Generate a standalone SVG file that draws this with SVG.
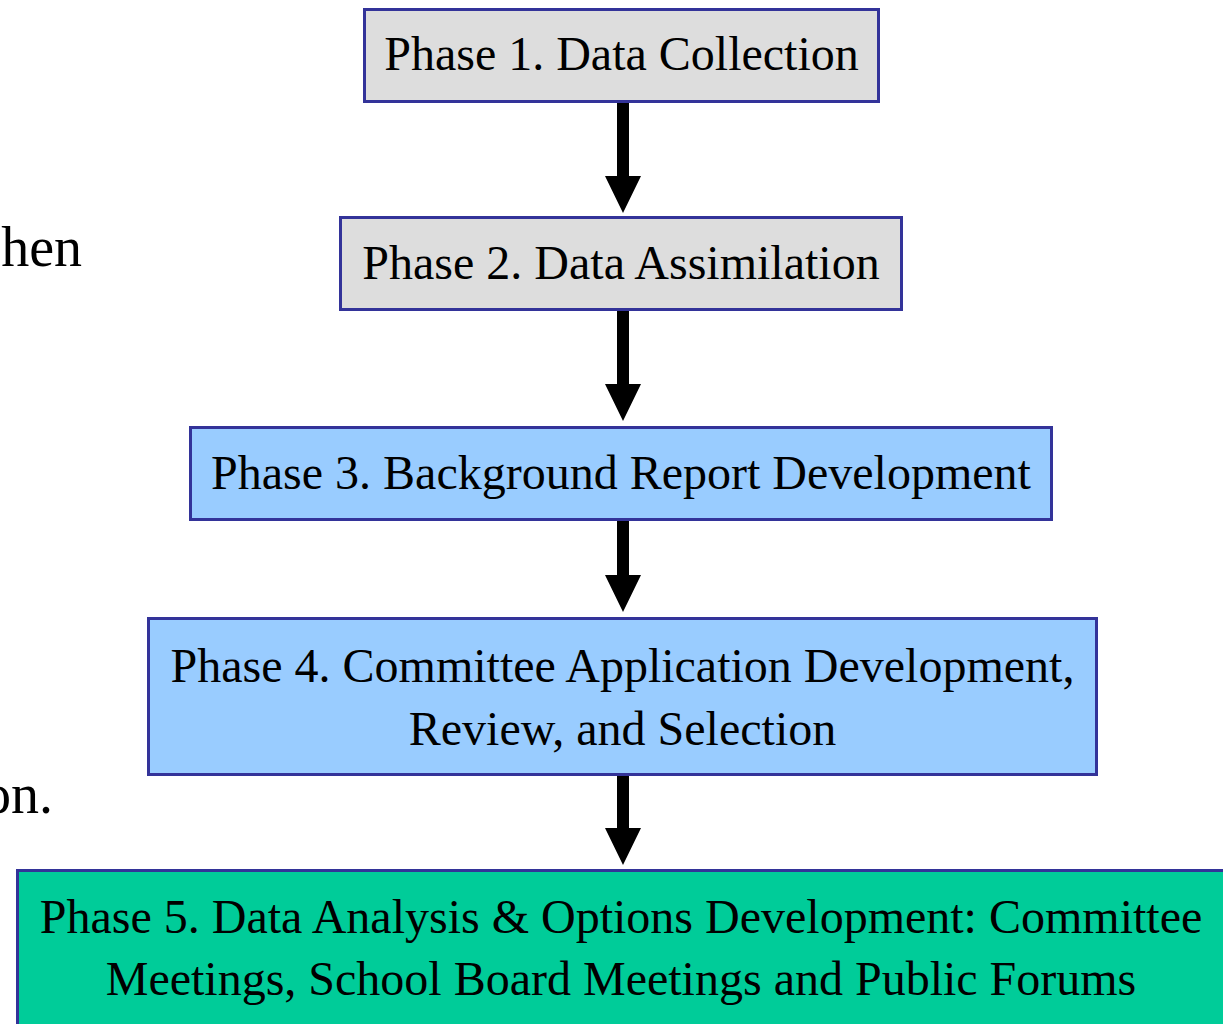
<svg xmlns="http://www.w3.org/2000/svg" width="1223" height="1024" viewBox="0 0 1223 1024">
<style>
.box{stroke:#333399;stroke-width:3}
.g{fill:#dddddd}
.b{fill:#99ccff}
.t{fill:#00cc99}
text{font-family:"Liberation Serif","Times New Roman",serif;fill:#000}
.lbl{font-size:48px;text-anchor:middle}
.side{font-size:56px;text-anchor:end}
.arr{fill:#000}
</style>
<rect width="1223" height="1024" fill="#fff"/>
<text class="side" x="82" y="266">hen</text>
<text class="side" x="53" y="813">on.</text>
<g id="connectors">
<polygon class="arr" points="617,102 629,102 629,176 641,176 623,213 605,176 617,176"/>
<polygon class="arr" points="617,310 629,310 629,384 641,384 623,421 605,384 617,384"/>
<polygon class="arr" points="617,520 629,520 629,575 641,575 623,612 605,575 617,575"/>
<polygon class="arr" points="617,775 629,775 629,828 641,828 623,865 605,828 617,828"/>
</g>
<g id="phase1">
<rect class="box g" x="364.5" y="9.5" width="514" height="92"/>
<text class="lbl" x="621.5" y="70">Phase 1. Data Collection</text>
</g>
<g id="phase2">
<rect class="box g" x="340.5" y="217.5" width="561" height="92"/>
<text class="lbl" x="621" y="279">Phase 2. Data Assimilation</text>
</g>
<g id="phase3">
<rect class="box b" x="190.5" y="427.5" width="861" height="92"/>
<text class="lbl" x="621" y="489">Phase 3. Background Report Development</text>
</g>
<g id="phase4">
<rect class="box b" x="148.5" y="618.5" width="948" height="156"/>
<text class="lbl" x="622.5" y="682">Phase 4. Committee Application Development,</text>
<text class="lbl" x="622.5" y="745">Review, and Selection</text>
</g>
<g id="phase5">
<rect class="box t" x="17.5" y="870.5" width="1212" height="160"/>
<text class="lbl" x="621" y="933">Phase 5. Data Analysis &amp; Options Development: Committee</text>
<text class="lbl" x="621" y="995">Meetings, School Board Meetings and Public Forums</text>
</g>
</svg>
